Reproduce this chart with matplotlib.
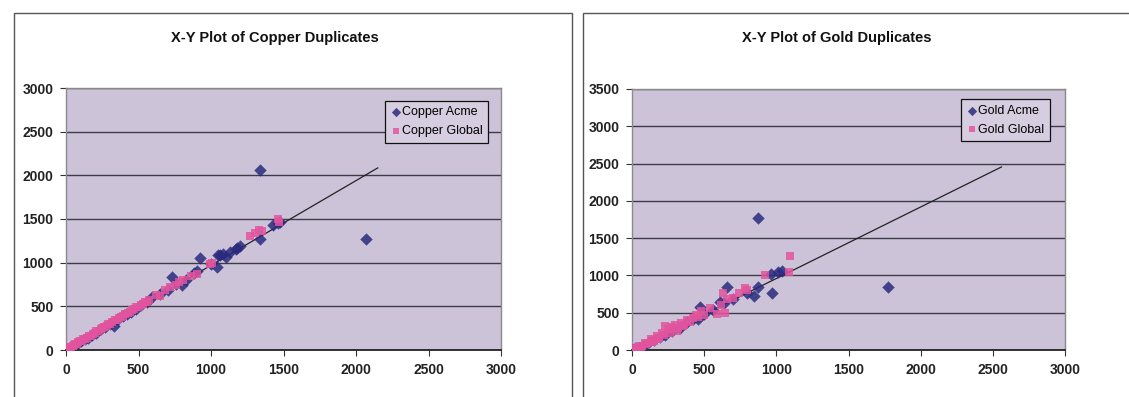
import matplotlib
matplotlib.use("Agg")
import matplotlib.pyplot as plt
from matplotlib.patches import Rectangle

plt.rcParams['font.family'] = ['Liberation Sans', 'DejaVu Sans']

# ---- Copper duplicates ----
copper_acme_x = [10, 25, 45, 60, 85, 105, 130, 150, 180, 210, 240, 270, 300, 330, 360, 390,
                 420, 450, 480, 520, 560, 590, 650, 700, 733, 760, 800, 830, 880, 900,
                 926, 1000, 1043, 1050, 1064, 1080, 1100, 1130, 1170, 1180, 1200,
                 1340, 1340, 1430, 1460, 1475, 2066]
copper_acme_y = [15, 20, 40, 55, 80, 100, 125, 140, 175, 200, 235, 262, 295, 280, 355, 385,
                 415, 440, 470, 515, 555, 610, 640, 690, 836, 760, 744, 800, 880, 905,
                 1054, 990, 951, 1090, 1088, 1100, 1060, 1120, 1160, 1168, 1190,
                 1270, 2060, 1432, 1450, 1470, 1270]

copper_global_x = [5, 12, 20, 28, 35, 45, 55, 65, 75, 85, 95, 110, 120, 130, 145, 160, 170,
                   185, 200, 210, 225, 240, 250, 265, 280, 290, 305, 320, 335, 350, 365,
                   380, 395, 410, 425, 440, 455, 470, 485, 500, 515, 530, 545, 560, 575,
                   620, 650, 680, 720, 760, 780, 810, 860, 900, 990, 1010,
                   1270, 1300, 1330, 1350, 1460, 1470]
copper_global_y = [10, 15, 20, 30, 40, 42, 60, 68, 72, 90, 100, 105, 122, 130, 140, 160, 165,
                   185, 195, 212, 220, 240, 255, 262, 280, 295, 300, 320, 340, 345, 362,
                   380, 392, 412, 420, 440, 458, 465, 488, 495, 515, 525, 548, 555, 570,
                   630, 620, 690, 720, 750, 780, 800, 850, 870, 990, 1000,
                   1310, 1340, 1370, 1360, 1500, 1460]

copper_trend_x = [0, 2150]
copper_trend_y = [0, 2085]

# ---- Gold duplicates ----
gold_acme_x = [0, 15, 40, 80, 120, 150, 194, 230, 280, 330, 380, 420, 460, 471, 500,
               560, 610, 640, 656, 700, 800, 845, 870, 875, 960, 972, 1014, 1040, 1772]
gold_acme_y = [0, 10, 30, 60, 110, 140, 170, 200, 260, 300, 370, 420, 410, 580, 480,
               540, 648, 630, 849, 690, 760, 730, 840, 1766, 1020, 760, 1050, 1060, 841]

gold_global_x = [5, 20, 35, 50, 60, 70, 90, 100, 110, 130, 140, 150, 170, 180, 190, 210,
                 220, 230, 250, 260, 270, 280, 300, 310, 320, 340, 350, 360, 380, 400,
                 420, 440, 460, 480, 500, 540, 590, 620, 630, 645, 660, 700, 740, 780,
                 800, 922, 1085, 1095]
gold_global_y = [5, 25, 20, 60, 45, 50, 100, 80, 90, 150, 110, 120, 190, 150, 160, 230,
                 200, 320, 280, 230, 310, 290, 330, 260, 300, 360, 320, 330, 400, 380,
                 430, 470, 440, 520, 470, 560, 480, 600, 770, 495, 690, 700, 760, 830,
                 810, 1005, 1050, 1260]

gold_trend_x = [0, 2560]
gold_trend_y = [0, 2455]

x_ticks = [0, 500, 1000, 1500, 2000, 2500, 3000]
copper_y_ticks = [0, 500, 1000, 1500, 2000, 2500, 3000]
gold_y_ticks = [0, 500, 1000, 1500, 2000, 2500, 3000, 3500]

PLOT_BG = '#CDC3D9'
ACME_COLOR = '#2A2B7E'
GLOBAL_COLOR = '#E2559E'

W, H = 1129, 397
fig = plt.figure(figsize=(W / 100, H / 100), dpi=100)
fig.patch.set_facecolor('white')

# chart-area frames
for (x0, x1) in [(14, 572), (583, 1140)]:
    fig.patches.append(Rectangle((x0 / W, -0.05), (x1 - x0) / W, (H - 13) / H + 0.05,
                                 transform=fig.transFigure, fill=False,
                                 edgecolor='#555555', linewidth=1.0))


def draw_panel(rect, title, title_x, ax_data, yticks, ymax, names, legend_anchor):
    ax = fig.add_axes(rect)
    ax.set_facecolor(PLOT_BG)
    (ax_x, ax_y), (gl_x, gl_y), (tr_x, tr_y) = ax_data
    ax.plot(tr_x, tr_y, color='#222222', linewidth=0.9, zorder=2)
    ax.scatter(ax_x, ax_y, marker='D', s=40, color=ACME_COLOR, alpha=0.85,
               linewidths=0, zorder=3, label=names[0])
    ax.scatter(gl_x, gl_y, marker='s', s=40, color=GLOBAL_COLOR, alpha=0.85,
               linewidths=0, zorder=4, label=names[1])
    ax.set_xlim(0, 3000)
    ax.set_ylim(0, ymax)
    ax.set_xticks(x_ticks)
    ax.set_yticks(yticks)
    ax.tick_params(axis='both', labelsize=10, length=4, width=0.8, color='#333333',
                   direction='out', pad=5)
    for lab in ax.get_xticklabels() + ax.get_yticklabels():
        lab.set_fontweight('bold')
        lab.set_color('#222222')
    ax.yaxis.grid(True, color='#3C3C46', linewidth=1.0)
    ax.set_axisbelow(True)
    for side in ('top', 'right', 'left'):
        ax.spines[side].set_color('#8A8A8A')
        ax.spines[side].set_linewidth(1.0)
    ax.spines['bottom'].set_color('#222222')
    ax.spines['bottom'].set_linewidth(1.3)
    leg = ax.legend(loc='upper right',
                    bbox_to_anchor=legend_anchor, fontsize=9, frameon=True,
                    fancybox=False, edgecolor='#111111', facecolor='#D6CEE0',
                    framealpha=1.0, handletextpad=0.1, handlelength=0.8,
                    borderpad=0.45, labelspacing=0.55, markerscale=0.75)
    leg.get_frame().set_linewidth(0.9)
    fig.text(title_x, (H - 38) / H, title, ha='center', va='center',
             fontsize=10.5, fontweight='bold', color='#111111')
    return ax


draw_panel([66 / W, 47 / H, 435 / W, 262 / H], 'X-Y Plot of Copper Duplicates', 275 / W,
           ((copper_acme_x, copper_acme_y), (copper_global_x, copper_global_y),
            (copper_trend_x, copper_trend_y)),
           copper_y_ticks, 3000, ('Copper Acme', 'Copper Global'), (0.985, 0.975))

draw_panel([632 / W, 47 / H, 433 / W, 261 / H], 'X-Y Plot of Gold Duplicates', 837 / W,
           ((gold_acme_x, gold_acme_y), (gold_global_x, gold_global_y),
            (gold_trend_x, gold_trend_y)),
           gold_y_ticks, 3500, ('Gold Acme', 'Gold Global'), (0.98, 0.985))

fig.savefig('out.png', dpi=100)
